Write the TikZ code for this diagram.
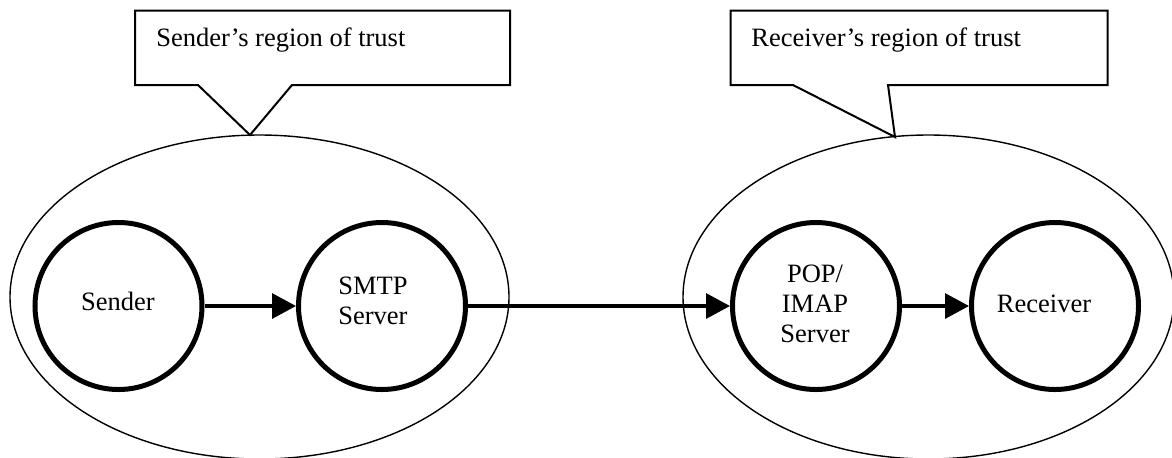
\documentclass[tikz,border=0pt]{standalone}
\usepackage{fontspec}
\setmainfont{Liberation Serif}
\usetikzlibrary{arrows.meta}

\tikzset{
  region/.style={draw, line width=0.7pt},
  callout/.style={draw, line width=1pt, line join=miter},
  agent/.style={draw, circle, line width=2.5pt, minimum size=83.5pt, inner sep=0pt},
  label/.style={inner sep=0pt, font=\fontsize{13.25}{15}\selectfont},
  flow/.style={line width=1.6pt, -{Triangle[length=12pt,width=12.5pt]}},
}

\begin{document}
\begin{tikzpicture}[x=0.5pt, y=-0.5pt]
  \useasboundingbox (0,0) rectangle (1172,457);

  % regions of trust
  \draw[region] (259.5,297) ellipse [x radius=124.75pt, y radius=81pt];
  \draw[region] (928.5,297) ellipse [x radius=122.75pt, y radius=81pt];

  % callout pointing at the sender's region
  \coordinate (stip) at (250,135);
  \draw[callout] (135,10.7) -- (510,10.7) -- (510,85) -- (292,85) -- (stip)
    -- (198,85) -- (135,85) -- cycle;
  \node[label, anchor=base west] (stext) at (156,46) {Sender’s region of trust};

  % callout pointing at the receiver's region
  \coordinate (rtip) at (895,137);
  \draw[callout] (730.7,10.7) -- (1107.7,10.7) -- (1107.7,85) -- (888,85) -- (rtip)
    -- (793,85) -- (730.7,85) -- cycle;
  \node[label, anchor=base west] (rtext) at (751,46) {Receiver’s region of trust};

  % mail path
  \node[agent] (sender) at (118.5,306) {};
  \node[agent] (smtp) at (382,306) {};
  \node[agent] (pop) at (816,306) {};
  \node[agent] (receiver) at (1055,306) {};

  \node[label] (sendert) at (118,301.7) {Sender};
  \node[label, align=left] (smtpt) at (373,301) {SMTP\\Server};
  \node[label, align=center] (popt) at (815,304) {POP/\\IMAP\\Server};
  \node[label] (receivert) at (1044,303.7) {Receiver};

  \draw[flow] (sender) -- (smtp);
  \draw[flow] (smtp) -- (pop);
  \draw[flow] (pop) -- (receiver);
\end{tikzpicture}
\end{document}
